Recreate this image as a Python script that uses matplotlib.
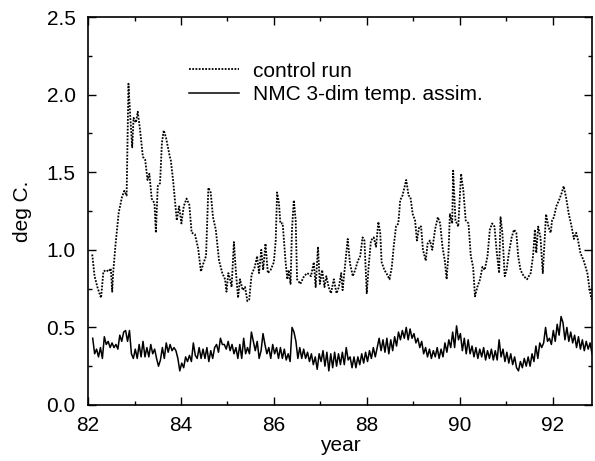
import numpy as np
import matplotlib
matplotlib.use("Agg")
import matplotlib.pyplot as plt
from matplotlib.ticker import MultipleLocator

plt.rcParams['font.family'] = ['Liberation Sans', 'DejaVu Sans']

# control run (dotted)
ctrl_year = [82.09, 82.14, 82.21, 82.28, 82.33, 82.39, 82.44, 82.49, 82.52, 82.54, 82.59, 82.66,
             82.73, 82.78, 82.83, 82.87, 82.90, 82.95, 82.98, 83.03, 83.07, 83.12, 83.18, 83.23,
             83.28, 83.32, 83.37, 83.43, 83.46, 83.50, 83.55, 83.59, 83.63, 83.68, 83.72, 83.76,
             83.78, 83.83, 83.91, 83.96, 84.01, 84.06, 84.12, 84.18, 84.23, 84.30, 84.37, 84.43,
             84.48, 84.54, 84.59, 84.64, 84.69, 84.75, 84.82, 84.89, 84.95, 84.98, 85.02, 85.05,
             85.09, 85.14, 85.18, 85.23, 85.27, 85.33, 85.38, 85.43, 85.47, 85.52, 85.59, 85.64,
             85.68, 85.73, 85.77, 85.82, 85.87, 85.93, 86.00, 86.04, 86.07, 86.11, 86.14, 86.19,
             86.25, 86.29, 86.32, 86.36, 86.39, 86.43, 86.47, 86.50, 86.57, 86.65, 86.72, 86.80,
             86.86, 86.90, 86.95, 86.99, 87.04, 87.09, 87.13, 87.18, 87.23, 87.29, 87.35, 87.40,
             87.45, 87.48, 87.53, 87.59, 87.64, 87.70, 87.75, 87.81, 87.86, 87.91, 87.95, 88.00,
             88.04, 88.09, 88.15, 88.20, 88.25, 88.29, 88.32, 88.38, 88.44, 88.49, 88.54, 88.58,
             88.63, 88.68, 88.72, 88.77, 88.85, 88.90, 88.94, 88.99, 89.04, 89.08, 89.13, 89.17,
             89.21, 89.27, 89.31, 89.36, 89.41, 89.47, 89.53, 89.58, 89.63, 89.68, 89.72, 89.76,
             89.79, 89.84, 89.86, 89.91, 89.97, 90.03, 90.08, 90.13, 90.19, 90.24, 90.29, 90.33,
             90.38, 90.44, 90.49, 90.54, 90.60, 90.65, 90.70, 90.75, 90.80, 90.85, 90.88, 90.92,
             90.97, 91.01, 91.06, 91.12, 91.17, 91.22, 91.26, 91.31, 91.38, 91.45, 91.53, 91.58,
             91.62, 91.65, 91.69, 91.74, 91.79, 91.83, 91.86, 91.91, 91.96, 91.99, 92.03, 92.08,
             92.14, 92.19, 92.24, 92.29, 92.35, 92.41, 92.46, 92.51, 92.55, 92.60, 92.67, 92.75,
             92.80, 92.84]
ctrl_val = [0.97, 0.83, 0.75, 0.69, 0.86, 0.87, 0.86, 0.88, 0.73, 0.85, 1.03, 1.24,
            1.34, 1.38, 1.35, 2.07, 1.90, 1.66, 1.85, 1.82, 1.89, 1.77, 1.60, 1.58,
            1.45, 1.49, 1.33, 1.30, 1.11, 1.41, 1.43, 1.69, 1.77, 1.72, 1.66, 1.60,
            1.58, 1.45, 1.19, 1.28, 1.17, 1.28, 1.33, 1.29, 1.11, 1.10, 1.01, 0.86,
            0.91, 0.96, 1.40, 1.37, 1.21, 1.13, 0.93, 0.85, 0.81, 0.73, 0.85, 0.82,
            0.76, 1.05, 0.87, 0.69, 0.81, 0.74, 0.76, 0.67, 0.68, 0.84, 0.89, 0.96,
            0.85, 1.00, 0.87, 1.04, 0.85, 0.87, 0.92, 1.06, 1.37, 1.30, 1.17, 1.17,
            0.93, 0.81, 0.87, 0.78, 1.13, 1.32, 1.19, 0.81, 0.78, 0.83, 0.85, 0.83,
            0.92, 0.76, 1.02, 0.78, 0.87, 0.76, 0.83, 0.76, 0.72, 0.81, 0.72, 0.76,
            0.85, 0.74, 0.89, 1.07, 0.91, 0.83, 0.87, 0.93, 0.96, 1.08, 1.06, 0.72,
            0.89, 1.06, 1.08, 1.02, 1.18, 1.11, 0.92, 0.87, 0.84, 0.81, 0.89, 1.02,
            1.15, 1.17, 1.32, 1.35, 1.45, 1.35, 1.34, 1.23, 1.19, 1.06, 1.15, 1.15,
            1.00, 0.93, 1.04, 1.06, 1.00, 1.13, 1.21, 1.17, 1.02, 0.93, 0.81, 0.98,
            1.23, 1.17, 1.51, 1.19, 1.15, 1.49, 1.38, 1.19, 1.17, 0.96, 0.89, 0.70,
            0.76, 0.81, 0.89, 0.87, 0.96, 1.13, 1.17, 1.15, 0.98, 0.85, 1.21, 1.11,
            0.83, 0.87, 0.98, 1.08, 1.13, 1.11, 0.96, 0.87, 0.83, 0.81, 0.85, 0.96,
            1.13, 0.98, 1.15, 1.08, 0.85, 1.06, 1.23, 1.15, 1.11, 1.19, 1.21, 1.28,
            1.32, 1.36, 1.41, 1.34, 1.23, 1.15, 1.07, 1.11, 1.06, 0.98, 0.93, 0.85,
            0.74, 0.68]

# NMC 3-dim temp. assim. (solid), half-monthly values from 82.1 to 92.85
nmc_start, nmc_end = 82.1, 92.85
nmc_val = [0.43, 0.33, 0.36, 0.31, 0.37, 0.30, 0.44, 0.39, 0.41, 0.37, 0.40, 0.37,
           0.39, 0.36, 0.45, 0.41, 0.47, 0.48, 0.41, 0.48, 0.33, 0.30, 0.36, 0.30,
           0.39, 0.31, 0.41, 0.31, 0.37, 0.31, 0.39, 0.33, 0.36, 0.30, 0.25, 0.29,
           0.37, 0.30, 0.40, 0.34, 0.39, 0.35, 0.37, 0.35, 0.30, 0.22, 0.27, 0.24,
           0.31, 0.28, 0.32, 0.28, 0.40, 0.32, 0.30, 0.37, 0.30, 0.36, 0.30, 0.37,
           0.28, 0.35, 0.30, 0.37, 0.39, 0.34, 0.43, 0.39, 0.39, 0.36, 0.41, 0.35,
           0.39, 0.33, 0.37, 0.30, 0.39, 0.30, 0.43, 0.33, 0.37, 0.33, 0.47, 0.41,
           0.35, 0.41, 0.30, 0.35, 0.46, 0.39, 0.33, 0.37, 0.30, 0.39, 0.33, 0.37,
           0.30, 0.37, 0.30, 0.36, 0.29, 0.33, 0.28, 0.50, 0.47, 0.41, 0.30, 0.37,
           0.30, 0.36, 0.30, 0.34, 0.28, 0.33, 0.26, 0.31, 0.23, 0.33, 0.28, 0.35,
           0.25, 0.34, 0.22, 0.33, 0.24, 0.34, 0.25, 0.33, 0.26, 0.34, 0.26, 0.37,
           0.29, 0.31, 0.24, 0.31, 0.24, 0.31, 0.26, 0.33, 0.27, 0.34, 0.28, 0.35,
           0.30, 0.37, 0.31, 0.37, 0.43, 0.35, 0.42, 0.34, 0.43, 0.33, 0.42, 0.35,
           0.44, 0.38, 0.47, 0.42, 0.48, 0.43, 0.50, 0.42, 0.49, 0.43, 0.46, 0.40,
           0.43, 0.37, 0.41, 0.33, 0.37, 0.31, 0.36, 0.30, 0.35, 0.31, 0.37, 0.30,
           0.36, 0.31, 0.40, 0.34, 0.42, 0.37, 0.47, 0.37, 0.51, 0.42, 0.46, 0.35,
           0.43, 0.33, 0.42, 0.33, 0.38, 0.31, 0.37, 0.30, 0.36, 0.31, 0.37, 0.29,
           0.35, 0.30, 0.36, 0.29, 0.35, 0.29, 0.42, 0.31, 0.36, 0.28, 0.34, 0.27,
           0.33, 0.26, 0.31, 0.24, 0.22, 0.28, 0.24, 0.30, 0.25, 0.31, 0.25, 0.33,
           0.28, 0.38, 0.30, 0.40, 0.37, 0.40, 0.50, 0.41, 0.43, 0.39, 0.48, 0.41,
           0.52, 0.45, 0.57, 0.53, 0.42, 0.50, 0.41, 0.47, 0.40, 0.45, 0.37, 0.44,
           0.36, 0.42, 0.35, 0.41, 0.36, 0.40, 0.33]
nmc_year = np.linspace(nmc_start, nmc_end, len(nmc_val))

fig = plt.figure(figsize=(5.95, 4.61), dpi=100)
ax = fig.add_axes([0.148, 0.1215, 0.847, 0.8415])

ax.plot(ctrl_year, ctrl_val, color='black', lw=1.3, linestyle=(0, (1, 0.8)), label='control run')
ax.plot(nmc_year, nmc_val, color='black', lw=1.1, label='NMC 3-dim temp. assim.')

ax.set_xlim(82, 92.85)
ax.set_ylim(0, 2.5)
ax.xaxis.set_major_locator(MultipleLocator(2))
ax.xaxis.set_minor_locator(MultipleLocator(1))
ax.yaxis.set_major_locator(MultipleLocator(0.5))
ax.yaxis.set_minor_locator(MultipleLocator(0.25))
ax.xaxis.set_major_formatter(plt.FuncFormatter(lambda v, p: '%d' % v))
ax.yaxis.set_major_formatter(plt.FuncFormatter(lambda v, p: '%.1f' % v))
ax.tick_params(which='both', direction='in', top=True, right=True, labelsize=15)
ax.tick_params(which='major', length=6, width=1)
ax.tick_params(axis='y', which='major', pad=9)
ax.tick_params(axis='x', which='major', pad=8)
ax.tick_params(which='minor', length=3, width=1)
for s in ax.spines.values():
    s.set_linewidth(1.2)

ax.set_xlabel('year', fontsize=15, labelpad=1)
ax.set_ylabel('deg C.', fontsize=15, labelpad=10)

ax.legend(loc='upper left', bbox_to_anchor=(0.2, 0.885), frameon=False, fontsize=15,
          handlelength=2.4, handletextpad=0.7, labelspacing=0.2, borderpad=0, borderaxespad=0)

fig.savefig('out.png', dpi=100)
